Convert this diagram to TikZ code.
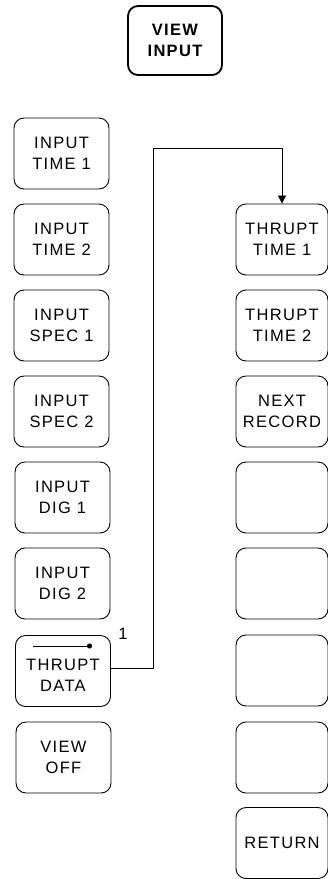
\documentclass[tikz,border=0pt]{standalone}
\usepackage{fontspec}
\setmainfont{Liberation Sans}[LetterSpace=8]
\usetikzlibrary{arrows.meta,calc}
\tikzset{
  key/.style={draw, rounded corners=10pt, line width=0.9pt, minimum width=95pt, minimum height=71pt,
    align=center, inner sep=0pt, font=\fontsize{16.5}{21}\selectfont},
  rkey/.style={key, minimum width=92pt},
  topkey/.style={key, line width=1.8pt, minimum width=94pt, minimum height=69pt, font=\fontsize{16.5}{21}\selectfont\bfseries},
  conn/.style={line width=0.8pt, -{Triangle[length=8pt,width=8pt]}},
  lbl/.style={font=\fontsize{16.5}{21}\selectfont, inner sep=0pt}
}
\begin{document}
\begin{tikzpicture}[x=1pt,y=-1pt]
\useasboundingbox (0,0) rectangle (328,879);
\node[topkey] (vi) at (175,40.5) {VIEW\\INPUT};
% left column
\node[key] (l1) at (61.5,153.5) {INPUT\\TIME 1};
\node[key] (l2) at (61.5,239.5) {INPUT\\TIME 2};
\node[key] (l3) at (61.5,325.5) {INPUT\\SPEC 1};
\node[key] (l4) at (61.5,411.5) {INPUT\\SPEC 2};
\node[key] (l5) at (62.5,497.5) {INPUT\\DIG 1};
\node[key] (l6) at (62.5,583.5) {INPUT\\DIG 2};
\node[key] (td) at (63,671) {};
\node[lbl, align=center] (tdt) at (63,675) {THRUPT\\DATA};
\coordinate (ls) at (33,646);
\coordinate (le) at (92,646);
\draw[line width=0.8pt, -{Circle[length=5pt]}] (ls) -- (le);
\node[key] (l8) at (63.5,757.5) {VIEW\\OFF};
% right column
\node[rkey] (r1) at (282,239.5) {THRUPT\\TIME 1};
\node[rkey] (r2) at (282,325.5) {THRUPT\\TIME 2};
\node[rkey] (r3) at (282,411.5) {NEXT\\RECORD};
\node[rkey] (r4) at (282,497.5) {};
\node[rkey] (r5) at (282,583.5) {};
\node[rkey] (r6) at (282,670.5) {};
\node[rkey] (r7) at (282,757.5) {};
\node[rkey] (r8) at (282,843) {RETURN};
% connector
\coordinate (c1) at (153,148);
\draw[conn] (td.east |- 0,668) -| (c1) -| (r1.north);
\node[lbl] (n1) at (123,634) {1};
\end{tikzpicture}
\end{document}
